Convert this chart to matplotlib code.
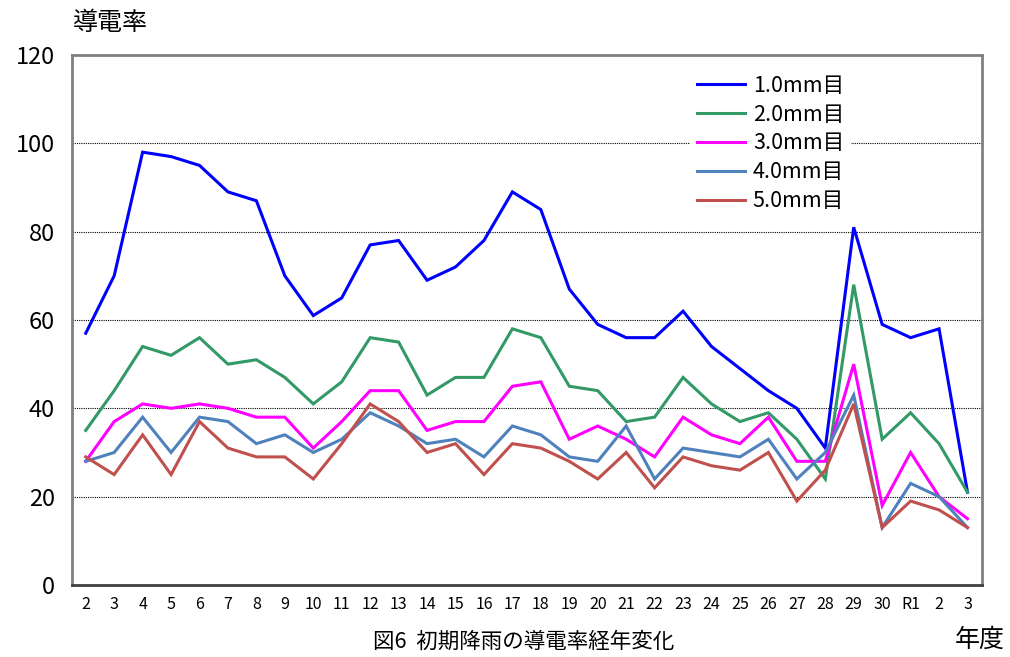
import matplotlib
matplotlib.use("Agg")
import matplotlib.pyplot as plt

plt.rcParams['font.family'] = ['Noto Sans CJK JP', 'DejaVu Sans']

years = ["2", "3", "4", "5", "6", "7", "8", "9", "10", "11", "12", "13", "14", "15", "16",
         "17", "18", "19", "20", "21", "22", "23", "24", "25", "26", "27", "28", "29", "30",
         "R1", "2", "3"]

s10 = [57, 70, 98, 97, 95, 89, 87, 70, 61, 65, 77, 78, 69, 72, 78, 89, 85, 67, 59, 56, 56,
       62, 54, 49, 44, 40, 31, 81, 59, 56, 58, 21]
s20 = [35, 44, 54, 52, 56, 50, 51, 47, 41, 46, 56, 55, 43, 47, 47, 58, 56, 45, 44, 37, 38,
       47, 41, 37, 39, 33, 24, 68, 33, 39, 32, 21]
s30 = [28, 37, 41, 40, 41, 40, 38, 38, 31, 37, 44, 44, 35, 37, 37, 45, 46, 33, 36, 33, 29,
       38, 34, 32, 38, 28, 28, 50, 18, 30, 20, 15]
s40 = [28, 30, 38, 30, 38, 37, 32, 34, 30, 33, 39, 36, 32, 33, 29, 36, 34, 29, 28, 36, 24,
       31, 30, 29, 33, 24, 30, 43, 13, 23, 20, 13]
s50 = [29, 25, 34, 25, 37, 31, 29, 29, 24, 32, 41, 37, 30, 32, 25, 32, 31, 28, 24, 30, 22,
       29, 27, 26, 30, 19, 26, 41, 13, 19, 17, 13]

labels = ["1.0mm目", "2.0mm目", "3.0mm目", "4.0mm目", "5.0mm目"]
colors = ["#0000FF", "#339966", "#FF00FF", "#4F81BD", "#C0504D"]
series = [s10, s20, s30, s40, s50]

fig = plt.figure(figsize=(10.10, 6.57), dpi=100)
ax = fig.add_axes([0.0708, 0.1096, 0.9012, 0.8067])

x = list(range(len(years)))
for data, lab, col in zip(series, labels, colors):
    ax.plot(x, data, color=col, lw=2.2, label=lab, solid_joinstyle='miter')

ax.set_xlim(-0.5, len(years) - 0.5)
ax.set_ylim(0, 120)
ax.set_yticks(range(0, 121, 20))
ax.set_xticks(x)
ax.set_xticklabels(years, fontsize=11.5)
ax.tick_params(axis='y', labelsize=17, length=0, pad=12)
ax.tick_params(axis='x', length=0, pad=8)

for yv in range(20, 120, 20):
    ax.axhline(yv, color='black', lw=0.8, ls=(0, (1, 1)), zorder=0)

for side in ['left', 'top', 'right']:
    ax.spines[side].set_color('#808080')
    ax.spines[side].set_linewidth(2)
ax.spines['bottom'].set_color('#404040')
ax.spines['bottom'].set_linewidth(2)

leg = ax.legend(loc='upper left', bbox_to_anchor=(0.68, 0.975), frameon=True,
                fontsize=15.5, handlelength=2.25, handletextpad=0.35, labelspacing=0.32,
                borderpad=0.3, borderaxespad=0)
leg.get_frame().set_edgecolor('none')
leg.get_frame().set_facecolor('white')
leg.get_frame().set_alpha(1)

fig.text(0.109, 0.965, "導電率", fontsize=18, ha='center', va='center')
fig.text(0.518, 0.023, "図6  初期降雨の導電率経年変化", fontsize=15.5, ha='center', va='center')
fig.text(0.970, 0.026, "年度", fontsize=18, ha='center', va='center')

fig.savefig("out.png", dpi=100)
